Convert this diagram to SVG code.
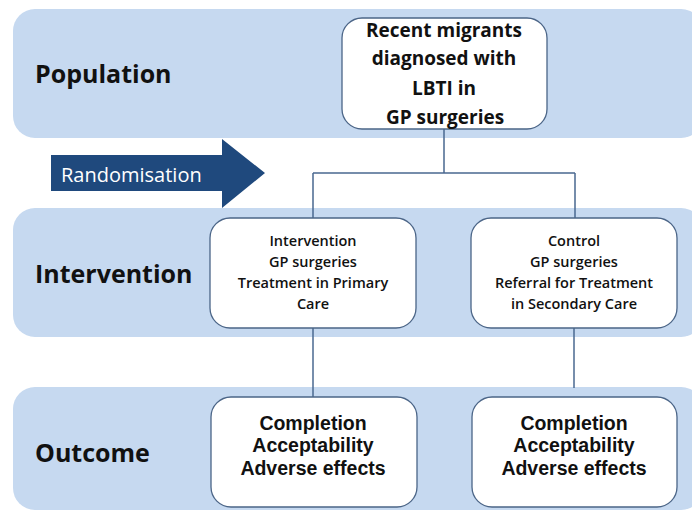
<svg xmlns="http://www.w3.org/2000/svg" width="692" height="511" viewBox="0 0 692 511">
  <style>
    .band { fill: #c6d9f0; }
    .box { fill: #ffffff; stroke: #4b6587; stroke-width: 1.3; }
    .conn { fill: none; stroke: #4a6890; stroke-width: 1.5; }
    .label { font-family: "Open Sans", "Liberation Sans", sans-serif; font-weight: 700; font-size: 25px; fill: #111; }
    .big { font-family: "Open Sans", "Liberation Sans", sans-serif; font-weight: 700; font-size: 19px; fill: #111; text-anchor: middle; }
    .result { font-family: "Liberation Sans", Arial, sans-serif; font-weight: 700; font-size: 19.5px; fill: #111; text-anchor: middle; }
    .small { font-family: "Open Sans", "Liberation Sans", sans-serif; font-weight: 600; font-size: 14.5px; fill: #111; text-anchor: middle; }
    .arrowtext { font-family: "Open Sans", "Liberation Sans", sans-serif; font-size: 20px; fill: #ffffff; }
  </style>

  <!-- stage bands -->
  <g id="band-population">
    <rect class="band" x="13" y="9" width="690" height="129" rx="22"/>
    <text class="label" x="35" y="83">Population</text>
  </g>
  <g id="band-intervention">
    <rect class="band" x="13" y="208" width="690" height="129" rx="22"/>
    <text class="label" x="35" y="283">Intervention</text>
  </g>
  <g id="band-outcome">
    <rect class="band" x="13" y="387" width="690" height="123" rx="22"/>
    <text class="label" x="35" y="462">Outcome</text>
  </g>

  <!-- randomisation arrow -->
  <g id="randomisation">
    <polygon points="51,155 222,155 222,139 265,173 222,208 222,191 51,191" fill="#1f497d"/>
    <text class="arrowtext" x="61" y="182">Randomisation</text>
  </g>

  <!-- connectors -->
  <g id="connectors">
    <path class="conn" d="M444,129 V173 M313,173 H575 M313,173 V218 M575,173 V218"/>
    <path class="conn" d="M313,328 V397"/>
    <path class="conn" d="M574,328 V388"/>
  </g>

  <!-- nodes -->
  <g id="node-population">
    <rect class="box" x="342" y="18" width="205" height="111" rx="20"/>
    <text class="big" x="444" y="37">Recent migrants</text>
    <text class="big" x="444" y="65">diagnosed with</text>
    <text class="big" x="444" y="95">LBTI in</text>
    <text class="big" x="445" y="124">GP surgeries</text>
  </g>

  <g id="node-intervention">
    <rect class="box" x="210" y="218" width="206" height="110" rx="20"/>
    <text class="small" x="313" y="246">Intervention</text>
    <text class="small" x="313" y="267">GP surgeries</text>
    <text class="small" x="313" y="288">Treatment in Primary</text>
    <text class="small" x="313" y="309">Care</text>
  </g>

  <g id="node-control">
    <rect class="box" x="471" y="218" width="206" height="110" rx="20"/>
    <text class="small" x="574" y="246">Control</text>
    <text class="small" x="574" y="267">GP surgeries</text>
    <text class="small" x="574" y="288">Referral for Treatment</text>
    <text class="small" x="574" y="309">in Secondary Care</text>
  </g>

  <g id="node-outcome-intervention">
    <rect class="box" x="211" y="397" width="206" height="110" rx="20"/>
    <text class="result" x="313" y="430">Completion</text>
    <text class="result" x="313" y="452">Acceptability</text>
    <text class="result" x="313" y="475">Adverse effects</text>
  </g>

  <g id="node-outcome-control">
    <rect class="box" x="472" y="397" width="205" height="110" rx="20"/>
    <text class="result" x="574" y="430">Completion</text>
    <text class="result" x="574" y="452">Acceptability</text>
    <text class="result" x="574" y="475">Adverse effects</text>
  </g>
</svg>
